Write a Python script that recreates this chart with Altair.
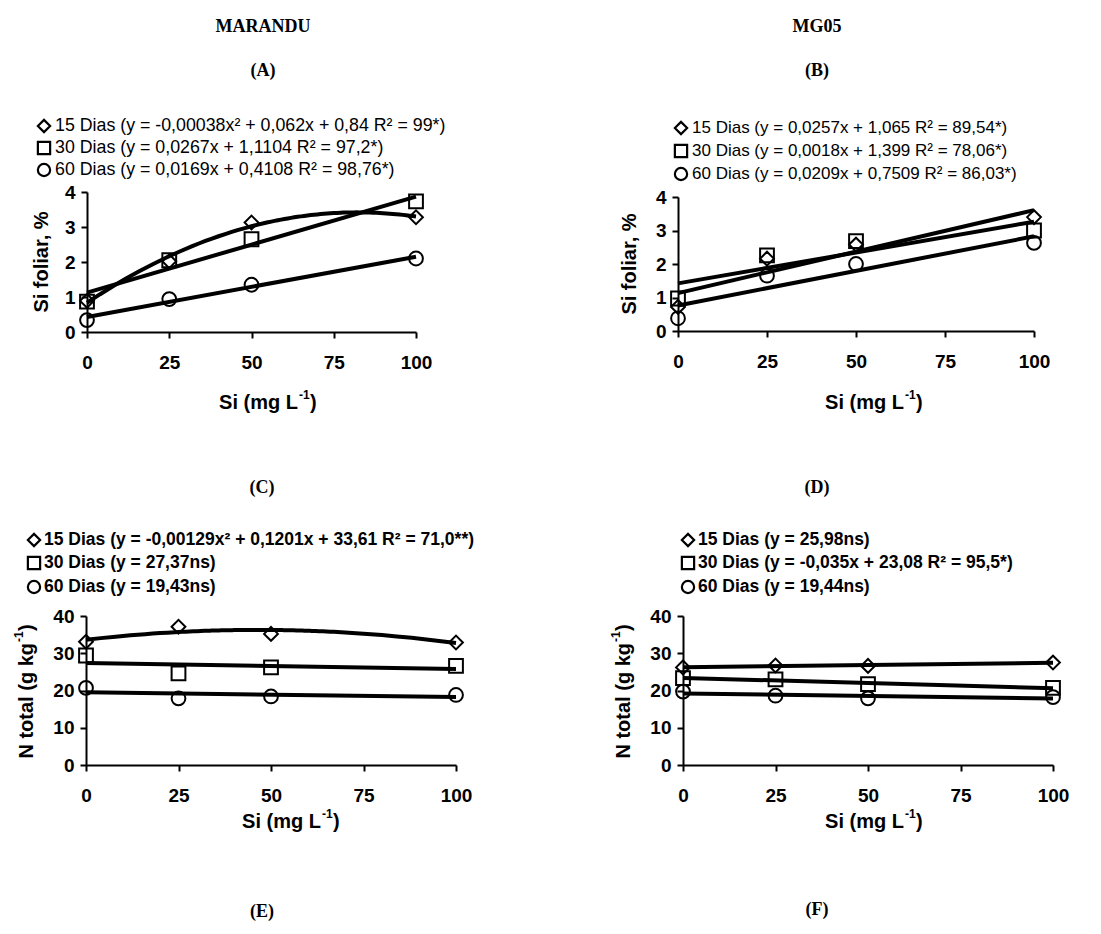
import altair as alt
import pandas as pd

# ---------------- data ----------------
DOSES = [0, 25, 50, 100]
SERIES = ["15 Dias", "30 Dias", "60 Dias"]
SHAPES = ["diamond", "square", "circle"]
X_TICKS = [0, 25, 50, 75, 100]

# (A) MARANDU - Si foliar, %
A_15 = [0.89, 2.02, 3.13, 3.28]
A_30 = [0.87, 2.05, 2.65, 3.73]
A_60 = [0.34, 0.94, 1.35, 2.10]
# (B) MG05 - Si foliar, %
B_15 = [0.72, 2.16, 2.58, 3.40]
B_30 = [0.97, 2.26, 2.68, 3.00]
B_60 = [0.38, 1.65, 2.00, 2.63]
# (C) MARANDU - N total
C_15 = [33.1, 37.1, 35.2, 32.9]
C_30 = [29.4, 24.6, 26.2, 26.6]
C_60 = [20.7, 17.9, 18.4, 18.8]
# (D) MG05 - N total
D_15 = [26.2, 26.7, 26.6, 27.5]
D_30 = [23.3, 23.0, 21.7, 20.7]
D_60 = [19.7, 18.6, 17.9, 18.2]

LEG_A = ["15 Dias (y = -0,00038x² + 0,062x + 0,84 R² = 99*)",
         "30 Dias (y = 0,0267x + 1,1104 R² = 97,2*)",
         "60 Dias (y = 0,0169x + 0,4108 R² = 98,76*)"]
LEG_B = ["15 Dias (y = 0,0257x + 1,065 R² = 89,54*)",
         "30 Dias (y = 0,0018x + 1,399 R² = 78,06*)",
         "60 Dias (y = 0,0209x + 0,7509 R² = 86,03*)"]
LEG_C = ["15 Dias (y = -0,00129x² + 0,1201x + 33,61 R² = 71,0**)",
         "30 Dias (y = 27,37ns)",
         "60 Dias (y = 19,43ns)"]
LEG_D = ["15 Dias (y = 25,98ns)",
         "30 Dias (y = -0,035x + 23,08 R² = 95,5*)",
         "60 Dias (y = 19,44ns)"]

HEADERS = ["MARANDU", "MG05", "(A)", "(B)", "(C)", "(D)", "(E)", "(F)"]
Y_TITLE_SI = "Si foliar, %"
Y_TITLE_N = "N total (g kg"
X_TITLE = "Si (mg L"
SUP = "-1"

W, H = 1101, 934
SANS = "Liberation Sans"
SERIF = "Liberation Serif"


def panel(values, methods, xr, yr, ymax, yticks):
    rows = []
    for s, vals in zip(SERIES, values):
        for d, v in zip(DOSES, vals):
            rows.append({"dose": d, "val": v, "serie": s})
    df = pd.DataFrame(rows)
    xs = alt.Scale(domain=[0, 100], range=xr, nice=False, zero=False)
    ys = alt.Scale(domain=[0, ymax], range=yr, nice=False, zero=False)
    common = dict(grid=False, title=None, domainColor="black", domainWidth=2,
                  tickColor="black", tickWidth=2, tickSize=6,
                  labelFont=SANS, labelFontSize=19, labelFontWeight="bold",
                  labelColor="black", labelFlush=False, labelOverlap=False,
                  labelBound=False)
    xaxis = alt.Axis(values=X_TICKS, orient="bottom", offset=yr[0] - H,
                     labelPadding=15, **common)
    yaxis = alt.Axis(values=yticks, orient="left", offset=-xr[0],
                     labelPadding=6, **common)
    X = alt.X("dose:Q", scale=xs, axis=xaxis)
    Y = alt.Y("val:Q", scale=ys, axis=yaxis)
    pts = alt.Chart(df).mark_point(filled=False, stroke="black", strokeWidth=2,
                                   size=190, opacity=1).encode(
        x=X, y=Y,
        shape=alt.Shape("serie:N", scale=alt.Scale(domain=SERIES, range=SHAPES),
                        legend=None))
    layers = [pts]
    for s, m in zip(SERIES, methods):
        base = alt.Chart(df).transform_filter(alt.datum.serie == s)
        if m == "poly":
            base = base.transform_regression("dose", "val", method="poly", order=2,
                                             extent=[0, 100])
        else:
            base = base.transform_regression("dose", "val", method="linear",
                                             extent=[0, 100])
        layers.append(base.mark_line(color="black", strokeWidth=4).encode(x=X, y=Y))
    return alt.layer(*layers)


def text(t, x, y, size=18, weight="normal", font=SANS, align="center",
         angle=0, dx=0, dy=0):
    return alt.Chart(pd.DataFrame({"t": [t]})).mark_text(
        font=font, fontSize=size, fontWeight=weight, align=align,
        baseline="middle", angle=angle, dx=dx, dy=dy, color="black"
    ).encode(text="t:N", x=alt.value(x), y=alt.value(y))


def marker(shape, x, y):
    return alt.Chart(pd.DataFrame({"s": [shape]})).mark_point(
        filled=False, stroke="black", strokeWidth=2.2, size=150, opacity=1,
        shape=shape).encode(x=alt.value(x), y=alt.value(y))


pA = panel([A_15, A_30, A_60], ["poly", "lin", "lin"], [87, 416], [332, 192], 4, [0, 1, 2, 3, 4])
pB = panel([B_15, B_30, B_60], ["lin", "lin", "lin"], [678, 1034], [331, 197], 4, [0, 1, 2, 3, 4])
pC = panel([C_15, C_30, C_60], ["poly", "lin", "lin"], [86, 456], [765, 616], 40, [0, 10, 20, 30, 40])
pD = panel([D_15, D_30, D_60], ["lin", "lin", "lin"], [683, 1053], [765, 616], 40, [0, 10, 20, 30, 40])

deco = []
# headers
for t, (x, y) in zip(HEADERS, [(263, 27), (817, 27), (263, 71), (817, 71),
                               (262, 488), (817, 488), (262, 912), (817, 910)]):
    deco.append(text(t, x, y, size=18, weight="bold", font=SERIF))

# legends
for labels, mx, tx, ys, wt, fs in [(LEG_A, 44, 55, [126, 148, 170], "normal", 17.8),
                                   (LEG_B, 681, 692, [128, 151, 174], "normal", 17),
                                   (LEG_C, 34, 44, [540, 563, 587], "bold", 17.5),
                                   (LEG_D, 688, 698, [540, 563, 587], "bold", 17.5)]:
    for lab, shp, yy in zip(labels, SHAPES, ys):
        deco.append(marker(shp, mx, yy))
        deco.append(text(lab, tx, yy, size=fs, weight=wt, align="left"))

# x-axis titles with superscript
for ax, ay in [(298, 403), (904, 403), (321, 822), (904, 822)]:
    deco.append(text(X_TITLE, ax, ay, size=20, weight="bold", align="right"))
    deco.append(text(SUP, ax + 1, ay - 8, size=12, weight="bold", align="left"))
    deco.append(text(")", ax + 12, ay, size=20, weight="bold", align="left"))

# y-axis titles
deco.append(text(Y_TITLE_SI, 42, 262, size=20, weight="bold", angle=270))
deco.append(text(Y_TITLE_SI, 630, 264, size=20, weight="bold", angle=270))
for ax, ay in [(27, 643), (624, 643)]:
    deco.append(text(Y_TITLE_N, ax, ay, size=20, weight="bold", align="right", angle=270))
    deco.append(text(SUP, ax, ay, size=12, weight="bold", align="left", angle=270, dx=1, dy=-8))
    deco.append(text(")", ax, ay, size=20, weight="bold", align="left", angle=270, dx=12))

chart = alt.layer(pA, pB, pC, pD, *deco).resolve_scale(
    x="independent", y="independent"
).properties(
    width=W, height=H, padding=0,
    autosize=alt.AutoSizeParams(type="none"),
    background="white",
).configure_view(stroke=None)

chart.save("out.html", embed_options={"renderer": "svg", "actions": False})
